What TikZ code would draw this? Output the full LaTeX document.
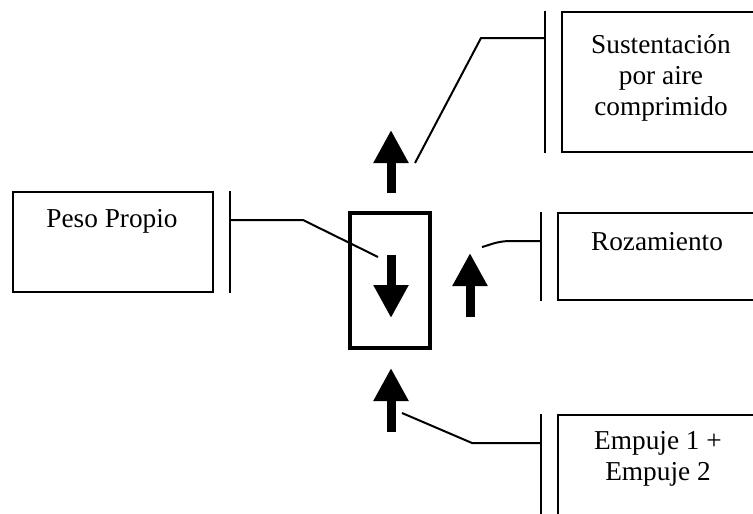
\documentclass[tikz,border=0pt]{standalone}
\usepackage{fontspec}
\setmainfont{Liberation Serif}
\usepackage{tikz}
\usetikzlibrary{positioning,arrows.meta}

\begin{document}
\begin{tikzpicture}[
    x=1pt, y=-1pt,
    every node/.style={font=\fontsize{27.3}{31}\selectfont},
    box/.style={draw, line width=2pt, inner sep=0pt},
    lbl/.style={anchor=base, align=center, inner sep=0pt},
    bar/.style={line width=2.4pt},
    leader/.style={line width=2pt},
    force/.style={line width=9pt, -{Triangle[length=33pt, width=33pt]}},
  ]
    % Picture frame: 753 x 514 px, one unit = one px
    \useasboundingbox (0,0) rectangle (753,514);
    \clip (0,0) rectangle (753,514);

    % --- body with its weight arrow
    \node[draw, line width=4.5pt, minimum width=80pt, minimum height=135pt,
      inner sep=0pt] (cuerpo) at (390,280.5) {};
    \coordinate (pesoA) at (391,255);
    \coordinate (pesoB) at (391,318);
    \draw[force] (pesoA) -- (pesoB);

    % --- other forces
    \coordinate (sustA) at (391,193);
    \coordinate (sustB) at (391,130);
    \draw[force] (sustA) -- (sustB);
    \coordinate (rozA) at (470,317);
    \coordinate (rozB) at (470,253);
    \draw[force] (rozA) -- (rozB);
    \coordinate (empA) at (391,432);
    \coordinate (empB) at (391,368);
    \draw[force] (empA) -- (empB);

    % --- label boxes (base of a multi-line label = its last line)
    \node[box, minimum width=200pt, minimum height=100pt] (peso) at (113,242) {};
    \node[lbl] (pesotxt) at (112,227) {Peso Propio};

    \node[box, minimum width=208pt, minimum height=140pt] (sust) at (666,82) {};
    \node[lbl] (susttxt) at (661,115) {Sustentación\\por aire\\comprimido};

    \node[box, minimum width=212pt, minimum height=87pt] (roz) at (664,256.5) {};
    \node[lbl] (roztxt) at (657,250) {Rozamiento};

    \node[box, minimum width=212pt, minimum height=145pt] (emp) at (664,487.5) {};
    \node[lbl] (emptxt) at (658,480) {Empuje 1 +\\Empuje 2};

    % --- bars beside the boxes
    \draw[bar] ([xshift=16pt]peso.north east) -- ([xshift=16pt]peso.south east);
    \draw[bar] ([xshift=-16pt]sust.north west) -- ([xshift=-16pt]sust.south west);
    \draw[bar] ([xshift=-16pt]roz.north west) -- ([xshift=-16pt]roz.south west);
    \draw[bar] ([xshift=-16pt]emp.north west) -- ([xshift=-16pt]emp.south west);

    % --- leaders from bars to arrows
    \coordinate (pesoend) at (378,257);
    \coordinate (sustend) at (415,163);
    \coordinate (rozend) at (482,247);
    \coordinate (empend) at (402,413);
    \draw[leader] ([xshift=16pt, yshift=-29pt]peso.north east)
      -- ++(73,0) -- (pesoend);
    \draw[leader] ([xshift=-16pt, yshift=-27pt]sust.north west)
      -- ++(-64,0) -- (sustend);
    \draw[leader] ([xshift=-16pt, yshift=-29pt]roz.north west)
      -- ++(-30,0) .. controls ++(-14,0) and ++(8,-2) .. (rozend);
    \draw[leader] ([xshift=-16pt, yshift=-29pt]emp.north west)
      -- ++(-69,0) -- (empend);
\end{tikzpicture}
\end{document}
